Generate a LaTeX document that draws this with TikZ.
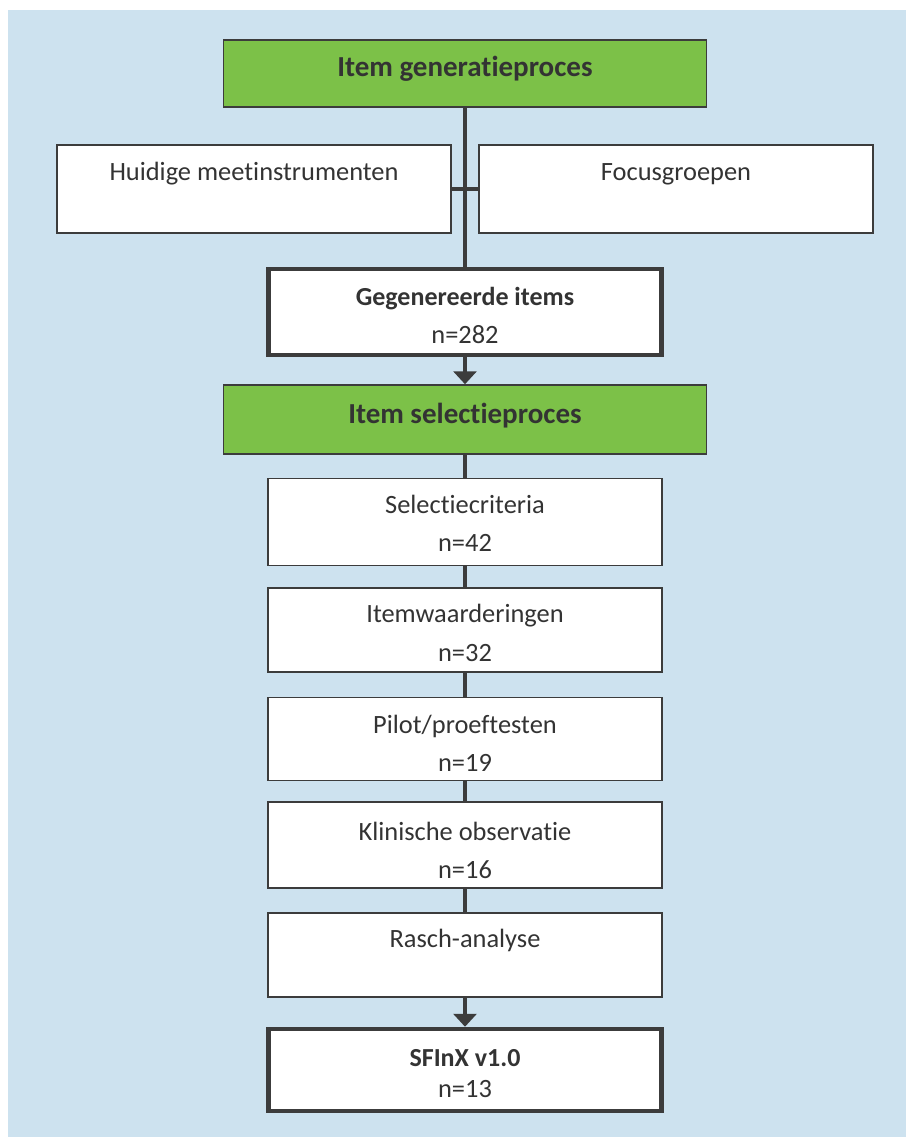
\documentclass[tikz,border=0pt]{standalone}
\usepackage{fontspec}
\setmainfont{Carlito}[Ligatures=NoCommon]
\usetikzlibrary{arrows.meta}
\definecolor{bgblue}{HTML}{CDE2EF}
\definecolor{greenbox}{HTML}{7CC148}
\definecolor{edge}{HTML}{3C3C3C}
\definecolor{txt}{HTML}{333333}
\tikzset{
  plainbox/.style={draw=edge, line width=1.5pt, fill=white, inner sep=0pt, minimum width=394pt},
  thickbox/.style={draw=edge, line width=4.5pt, fill=white, inner sep=0pt, minimum width=393pt},
  greenhead/.style={draw=edge, line width=1.5pt, fill=greenbox, inner sep=0pt, minimum width=483pt},
  lbl/.style={anchor=base, text=txt, inner sep=0pt, font=\fontsize{26.4}{30}\selectfont},
  blbl/.style={lbl, font=\fontsize{26}{30}\selectfont\bfseries},
  hlbl/.style={lbl, font=\fontsize{29}{32}\selectfont\bfseries},
  link/.style={draw=edge, line width=3.5pt},
  arrowlink/.style={link, -{Triangle[width=23pt,length=13pt]}}
}
\begin{document}
\begin{tikzpicture}[x=1pt,y=-1pt]
\useasboundingbox (0,0) rectangle (906,1137);
\fill[bgblue] (8,10) rectangle (906,1137);
% boxes
\node[greenhead, minimum height=67pt] (gen) at (465,73.5) {};
\node[plainbox, minimum height=88pt] (huid) at (254,189) {};
\node[plainbox, minimum height=88pt] (focus) at (676,189) {};
\node[thickbox, minimum height=86pt] (items) at (465,312) {};
\node[greenhead, minimum height=69pt] (sel) at (465,419.5) {};
\node[plainbox, minimum height=87pt] (crit) at (465,522) {};
\node[plainbox, minimum height=84pt] (waard) at (465,630) {};
\node[plainbox, minimum height=83pt] (pilot) at (465,739) {};
\node[plainbox, minimum height=86pt] (klin) at (465,845) {};
\node[plainbox, minimum height=84pt] (rasch) at (465,955) {};
\node[thickbox, minimum height=82pt] (sfinx) at (465,1070) {};
% connectors
\draw[link] (gen.south) -- (items.north);
\draw[link] (huid.east) -- (focus.west);
\draw[arrowlink] (items.south) -- (sel.north);
\draw[link] (sel.south) -- (crit.north);
\draw[link] (crit.south) -- (waard.north);
\draw[link] (waard.south) -- (pilot.north);
\draw[link] (pilot.south) -- (klin.north);
\draw[link] (klin.south) -- (rasch.north);
\draw[arrowlink] (rasch.south) -- (sfinx.north);
% texts
\node[hlbl] (tgen) at (465,77) {Item generatieproces};
\node[lbl] (thuid) at (254,180) {Huidige meetinstrumenten};
\node[lbl] (tfocus) at (676,180) {Focusgroepen};
\node[blbl] (titems) at (465,305) {Gegenereerde items};
\node[lbl] (nitems) at (465,343) {n=282};
\node[hlbl] (tsel) at (465,423) {Item selectieproces};
\node[lbl] (tcrit) at (465,513) {Selectiecriteria};
\node[lbl] (ncrit) at (465,551) {n=42};
\node[lbl] (twaard) at (465,622) {Itemwaarderingen};
\node[lbl] (nwaard) at (465,661) {n=32};
\node[lbl] (tpilot) at (465,733) {Pilot/proeftesten};
\node[lbl] (npilot) at (465,771) {n=19};
\node[lbl] (tklin) at (465,840) {Klinische observatie};
\node[lbl] (nklin) at (465,878) {n=16};
\node[lbl] (trasch) at (465,947) {Rasch-analyse};
\node[blbl] (tsfinx) at (465,1066) {SFInX v1.0};
\node[lbl] (nsfinx) at (465,1097) {n=13};
\end{tikzpicture}
\end{document}
